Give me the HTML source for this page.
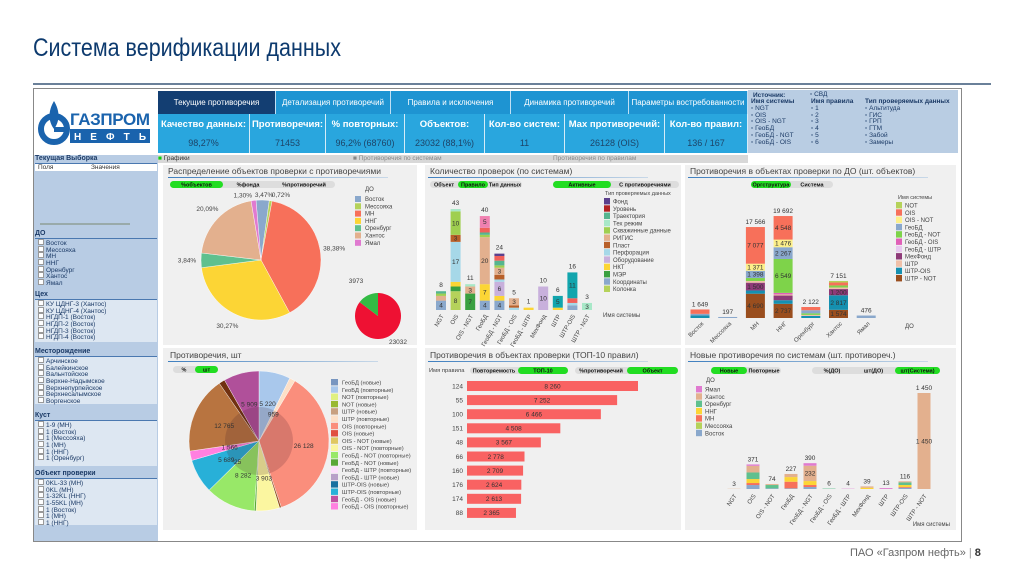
<!DOCTYPE html>
<html><head><meta charset="utf-8">
<style>
*{margin:0;padding:0;box-sizing:border-box}
body{width:1024px;height:576px;background:#fff;position:relative;overflow:hidden;font-family:"Liberation Sans","Noto Sans CJK SC",sans-serif}
.a{position:absolute}
.tab{position:absolute;top:91px;height:23px;background:#1e94d2;color:#fff;font-size:8px;text-align:center;line-height:23px;border-right:1px solid #bfe0f5;white-space:nowrap;overflow:hidden}
.kpi{position:absolute;top:114px;height:39px;background:#29a6de;border-right:1px solid #d5ecf8;text-align:center;color:#fff;white-space:nowrap;overflow:hidden}
.kpi b{display:block;font-size:9.5px;margin-top:5px}
.kpi span{display:block;font-size:9px;color:#1d4468;margin-top:8px}
.lp{position:absolute;left:35px;width:122px;font-size:6.5px;color:#1b3a66}
.lh{position:absolute;left:35px;width:122px;font-size:7px;font-weight:bold;color:#1b3a66;border-bottom:1px solid #4a78b0;height:9px}
.li{height:6.7px;line-height:6.7px;padding-left:3px;white-space:nowrap}
.li:before{content:"";display:inline-block;width:4px;height:4px;background:#fff;margin-right:2px;border:0.5px solid #999}
.pan{position:absolute;background:#f0f0f0}
.pt{position:absolute;font-size:8.5px;color:#444;white-space:nowrap}
.pl{position:absolute;height:1px;background:linear-gradient(90deg,#3f7fbf,#c8d8e8)}
</style></head><body>
<div class="a" style="left:33px;top:34px;font-size:25px;color:#0d3a6e;transform:scaleX(.86);transform-origin:left;white-space:nowrap">Система верификации данных</div>
<div class="a" style="left:33px;top:83px;width:958px;height:2px;background:#6a8099"></div>
<div class="a" style="left:33px;top:88px;width:929px;height:454px;border:1.5px solid #888;background:#fff"></div>
<div class="a" style="left:36px;top:91px;width:120px;height:62px;background:#fff">
 <svg width="120" height="62"><circle cx="18" cy="38" r="13" fill="none" stroke="#1a63ad" stroke-width="6"/><path d="M18 10 C24 20 24 30 18 38 C12 30 12 20 18 10Z" fill="#1a63ad"/><rect x="18" y="36" width="12" height="5" fill="#1a63ad"/><text x="34" y="34" font-size="17" font-weight="bold" fill="#1a63ad" font-family="Liberation Sans" textLength="80">ГАЗПРОМ</text><rect x="34" y="38" width="80" height="14" fill="#1a63ad"/><text x="38" y="49" font-size="10" font-weight="bold" fill="#fff" textLength="72" font-family="Liberation Sans">Н Е Ф Т Ь</text></svg>
</div>
<div class="tab" style="left:158px;width:118px;background:#133e72">Текущие противоречия</div>
<div class="tab" style="left:276px;width:115px">Детализация противоречий</div>
<div class="tab" style="left:391px;width:120px">Правила и исключения</div>
<div class="tab" style="left:511px;width:118px">Динамика противоречий</div>
<div class="tab" style="left:629px;width:119px">Параметры востребованности</div>
<div class="kpi" style="left:158px;width:92px"><b>Качество данных:</b><span>98,27%</span></div>
<div class="kpi" style="left:250px;width:76px"><b>Противоречия:</b><span>71453</span></div>
<div class="kpi" style="left:326px;width:79px"><b>% повторных:</b><span>96,2% (68760)</span></div>
<div class="kpi" style="left:405px;width:80px"><b>Объектов:</b><span>23032 (88,1%)</span></div>
<div class="kpi" style="left:485px;width:80px"><b>Кол-во систем:</b><span>11</span></div>
<div class="kpi" style="left:565px;width:100px"><b>Max противоречий:</b><span>26128 (OIS)</span></div>
<div class="kpi" style="left:665px;width:83px"><b>Кол-во правил:</b><span>136 / 167</span></div>
<div class="a" style="left:748px;top:90px;width:210px;height:63px;background:#b9cde3;font-size:6.5px;color:#1b3a66">
 <div class="a" style="left:5px;top:2px;font-weight:bold">Источник:</div><div class="a" style="left:62px;top:1px">▫ СВД</div>
 <div class="a" style="left:3px;top:9px;width:56px;line-height:6.8px;white-space:nowrap"><b>Имя системы</b><br>▫ NGT<br>▫ OIS<br>▫ OIS - NGT<br>▫ ГеоБД<br>▫ ГеоБД - NGT<br>▫ ГеоБД - OIS</div>
 <div class="a" style="left:63px;top:9px;width:50px;line-height:6.8px;white-space:nowrap"><b>Имя правила</b><br>▫ 1<br>▫ 2<br>▫ 3<br>▫ 4<br>▫ 5<br>▫ 6</div>
 <div class="a" style="left:117px;top:9px;width:90px;line-height:6.8px;white-space:nowrap"><b>Тип проверяемых данных</b><br>▫ Альтитуда<br>▫ ГИС<br>▫ ГРП<br>▫ ГТМ<br>▫ Забой<br>▫ Замеры</div>
</div>
<div class="a" style="left:34px;top:155px;width:124px;height:386px;background:#b8cce4"></div>
<div class="lh" style="top:155px">Текущая Выборка</div>
<div class="a" style="left:35px;top:164px;width:122px;height:7px;background:#fff;font-size:6.5px;color:#333;padding-left:3px">Поля<span style="position:absolute;left:56px">Значения</span></div>
<div class="a" style="left:40px;top:223px;width:90px;height:2px;background:#9aa"></div>
<div class="lh" style="top:230px">ДО</div>
<div class="lp" style="top:239px"><div class="li">Восток</div><div class="li">Мессояха</div><div class="li">МН</div><div class="li">ННГ</div><div class="li">Оренбург</div><div class="li">Хантос</div><div class="li">Ямал</div></div>
<div class="lh" style="top:291px">Цех</div>
<div class="lp" style="top:300px;background:#dde7f2;height:42px"><div class="li">КУ ЦДНГ-3 (Хантос)</div><div class="li">КУ ЦДНГ-4 (Хантос)</div><div class="li">НГДП-1 (Восток)</div><div class="li">НГДП-2 (Восток)</div><div class="li">НГДП-3 (Восток)</div><div class="li">НГДП-4 (Восток)</div></div>
<div class="lh" style="top:348px">Месторождение</div>
<div class="lp" style="top:357px;background:#dde7f2;height:47px"><div class="li">Арчинское</div><div class="li">Балейкинское</div><div class="li">Вальнтойское</div><div class="li">Верхне-Надымское</div><div class="li">Верхнепурпейское</div><div class="li">Верхнесалымское</div><div class="li">Воргенское</div></div>
<div class="lh" style="top:412px">Куст</div>
<div class="lp" style="top:421px;background:#dde7f2;height:45px"><div class="li">1-9 (МН)</div><div class="li">1 (Восток)</div><div class="li">1 (Мессояха)</div><div class="li">1 (МН)</div><div class="li">1 (ННГ)</div><div class="li">1 (Оренбург)</div></div>
<div class="lh" style="top:470px">Объект проверки</div>
<div class="lp" style="top:479px;background:#dde7f2;height:46px"><div class="li">0KL-33 (МН)</div><div class="li">0KL (МН)</div><div class="li">1-32KL (ННГ)</div><div class="li">1-55KL (МН)</div><div class="li">1 (Восток)</div><div class="li">1 (МН)</div><div class="li">1 (ННГ)</div></div>
<div class="a" style="left:158px;top:155px;width:590px;height:8px;background:#d8d8d8;font-size:6.5px;color:#333;line-height:8px"><span style="color:#1c1;">■</span> Графики<span style="position:absolute;left:195px;color:#888">■ Противоречия по системам</span><span style="position:absolute;left:395px;color:#888">Противоречия по правилам</span></div>
<div class="pan" style="left:163px;top:165px;width:254px;height:180px"></div>
<div class="pan" style="left:425px;top:165px;width:256px;height:180px"></div>
<div class="pan" style="left:685px;top:165px;width:271px;height:180px"></div>
<div class="pan" style="left:163px;top:348px;width:254px;height:182px"></div>
<div class="pan" style="left:425px;top:348px;width:256px;height:182px"></div>
<div class="pan" style="left:685px;top:348px;width:271px;height:182px"></div>
<div class="pt" style="left:168px;top:166px">Распределение объектов проверки с противоречиями</div>
<div class="pl" style="left:168px;top:177px;width:220px"></div>
<div class="pt" style="left:430px;top:166px">Количество проверок (по системам)</div>
<div class="pl" style="left:428px;top:177px;width:220px"></div>
<div class="pt" style="left:690px;top:166px">Противоречия в объектах проверки по ДО (шт. объектов)</div>
<div class="pl" style="left:688px;top:177px;width:240px"></div>
<div class="pt" style="left:170px;top:350px">Противоречия, шт</div>
<div class="pl" style="left:168px;top:361px;width:210px"></div>
<div class="pt" style="left:430px;top:350px">Противоречия в объектах проверки (ТОП-10 правил)</div>
<div class="pl" style="left:428px;top:361px;width:220px"></div>
<div class="pt" style="left:690px;top:350px">Новые противоречия по системам (шт. противореч.)</div>
<div class="pl" style="left:688px;top:361px;width:240px"></div>
<div class="a" style="left:850px;top:547px;font-size:11px;color:#666;white-space:nowrap">ПАО «Газпром нефть» <span style="color:#999">|</span> <b style="color:#333">8</b></div>
<svg id="c" class="a" style="left:0;top:0" width="1024" height="576"></svg>
<script>
// ---------- Pie by ДО ----------
const doNames=["Восток","Мессояха","МН","ННГ","Оренбург","Хантос","Ямал"];
const doColors=["#8aa8cc","#b5d25a","#f7705a","#fcd535","#5fc08e","#e3b08e","#e07ad0"];
const doShares=[3.47,0.72,38.38,30.27,3.84,20.09,1.30];
const doShareLabels=["3,47%","0,72%","38,38%","30,27%","3,84%","20,09%","1,30%"];
const miniValues=[23032,3973];
const miniLabels=["23032","3973"];
// ---------- Checks by system ----------
const sysCats=["NGT","OIS","OIS - NGT","ГеоБД","ГеоБД - NGT","ГеоБД - OIS","ГеоБД - ШТР","МехФонд","ШТР","ШТР-OIS","ШТР - NGT"];
const typeNames=["Координаты","Колонка","МЭР","НКТ","Оборудование","Перфорация","Пласт","РИГИС","Скважинные данные","Тех режим","Траектория","Уровень","Фонд","ШТР","Прочие"];
const typeColors=["#8aa8cc","#b5d25a","#3aa040","#fcd535","#c8b0dc","#a6d8e8","#b8602a","#e3b08e","#9fcf50","#a8e8c8","#55b58f","#f0605a","#5b3f8c","#12a5ad","#f080b0"];
const chkCoord=[4,0,0,4,4,0,0,0,0,2,0];
const chkKolonka=[0,8,0,0,0,0,0,0,0,0,0];
const chkMer=[0,2,7,0,0,0,0,0,0,0,0];
const chkNkt=[0,2,0,7,2,0,1,0,1,0,0];
const chkObor=[0,0,0,0,6,0,0,10,0,0,0];
const chkPerf=[0,17,0,0,1,1,0,0,0,1,0];
const chkPlast=[0,3,0,0,2,1,0,0,0,0,0];
const chkRigis=[2,0,3,20,3,3,0,0,0,0,0];
const chkSkv=[1,10,0,1,1,0,0,0,0,0,0];
const chkTex=[0,1,1,0,0,0,0,0,0,0,3];
const chkTraek=[1,0,0,1,2,0,0,0,0,0,0];
const chkUrov=[0,0,0,2,2,0,0,0,0,2,0];
const chkFond=[0,0,0,0,1,0,0,0,0,0,0];
const chkShtr=[0,0,0,0,0,0,0,0,5,11,0];
const chkOther=[0,0,0,5,0,0,0,0,0,0,0];
// ---------- Contradictions by ДО ----------
const dbSys=["NOT","OIS","OIS - NOT","ГеоБД","ГеоБД - NOT","ГеоБД - OIS","ГеоБД - ШТР","МехФонд","ШТР","ШТР-OIS","ШТР - NOT"];
const dbColors=["#b5d25a","#f7705a","#fdf08a","#8aa8cc","#7ed34a","#e060b8","#e8c8f0","#8e3a78","#f0c0a8","#1590b0","#9a4e1e"];
const dbNOT=[0,0,0,0,0,300,0];
const dbOIS=[849,0,7077,4548,622,560,0];
const dbOISNOT=[0,0,1371,1476,0,0,0];
const dbGeo=[300,197,1398,2267,600,0,476];
const dbGeoNOT=[0,0,570,6549,300,400,0];
const dbGeoOIS=[0,0,0,300,0,0,0];
const dbGeoSHTR=[0,0,0,0,0,0,0];
const dbMeh=[0,0,1500,900,0,1200,0];
const dbSHTR=[0,0,330,215,200,300,0];
const dbSHTROIS=[500,0,630,700,400,2817,0];
const dbSHTRNOT=[0,0,4690,2737,0,1574,0];
// ---------- Donut ----------
const dnNames=["ГеоБД (повторные)","ШТР (повторные)","OIS (повторные)","OIS - NOT (новые)","OIS - NOT (повторные)","ГеоБД - NOT (новые)","ГеоБД - NOT (повторные)","ГеоБД - OIS (новые)","ШТР-OIS (повторные)","ГеоБД - OIS (повторные)","ШТР (новые)","ШТР (новые) доп","ГеоБД - OIS (новые) доп"];
const dnValues=[5220,959,26128,300,3903,300,8282,25,5689,1566,12765,1000,5909];
const dnLabels=["5 220","959","26 128","","3 903","","8 282","25","5 689","1 566","12 765","","5 909"];
const dnColors=["#a9c8ec","#fde0c8","#fa8e7c","#8e5020","#fbf6a0","#5aa838","#98e868","#3a9030","#28b0d8","#ff80e0","#b87440","#703010","#b0509a"];
const legDn=["ГеоБД (новые)","ГеоБД (повторные)","NOT (повторные)","NOT (новые)","ШТР (новые)","ШТР (повторные)","OIS (повторные)","OIS (новые)","OIS - NOT (новые)","OIS - NOT (повторные)","ГеоБД - NOT (повторные)","ГеоБД - NOT (новые)","ГеоБД - ШТР (повторные)","ГеоБД - ШТР (новые)","ШТР-OIS (новые)","ШТР-OIS (повторные)","ГеоБД - OIS (новые)","ГеоБД - OIS (повторные)"];
const legDnColors=["#7896c0","#a9c8ec","#e0f080","#98b830","#c8a080","#fde0c8","#fa8e7c","#e05040","#e0c860","#fbf6a0","#98e868","#5aa838","#fce0fc","#b8a0c8","#1870a0","#28b0d8","#c050a0","#ff80e0"];
// ---------- Top-10 ----------
const ruleIds=["124","55","100","151","48","66","160","176","174","88"];
const ruleValues=[8260,7252,6466,4508,3567,2778,2709,2624,2613,2365];
const ruleLabels=["8 260","7 252","6 466","4 508","3 567","2 778","2 709","2 624","2 613","2 365"];
// ---------- New contradictions ----------
const newCats=["NGT","OIS","OIS - NOT","ГеоБД","ГеоБД - NGT","ГеоБД - OIS","ГеоБД - ШТР","МехФонд","ШТР","ШТР-OIS","ШТР - NOT"];
const newDoNames=["Восток","Мессояха","МН","ННГ","Оренбург","Хантос","Ямал"];
const newDoColors=["#8aa8cc","#b5d25a","#f7705a","#fcd535","#5fc08e","#e3b08e","#e07ad0"];
const nwVostok=[0,60,10,10,30,0,0,0,0,20,0];
const nwMess=[0,0,0,0,0,0,0,0,0,0,0];
const nwMN=[0,30,0,100,30,0,0,0,0,10,0];
const nwNNG=[0,60,0,70,60,0,0,19,0,30,0];
const nwOren=[0,100,50,0,0,6,0,0,0,40,0];
const nwHant=[3,100,14,47,232,0,0,20,0,16,1450];
const nwYamal=[0,21,0,0,38,0,4,0,13,0,0];

const S=document.getElementById('c');const NS="http://www.w3.org/2000/svg";
function el(t,a,p){const e=document.createElementNS(NS,t);for(const k in a)e.setAttribute(k,a[k]);(p||S).appendChild(e);return e;}
function tx(x,y,s,size,fill,anchor,rot){const e=el('text',{x:x,y:y,'font-size':size||6.5,fill:fill||'#444','text-anchor':anchor||'start','font-family':'Liberation Sans, Noto Sans CJK SC, sans-serif'});if(rot)e.setAttribute('transform','rotate('+rot+' '+x+' '+y+')');e.textContent=s;return e;}
function arc(cx,cy,r,a0,a1){const p=(a,rr)=>[cx+rr*Math.sin(a),cy-rr*Math.cos(a)];const lg=(a1-a0)>Math.PI?1:0;const [x0,y0]=p(a0,r),[x1,y1]=p(a1,r);if(a1-a0>=2*Math.PI-1e-6)return `M${cx} ${cy-r}A${r} ${r} 0 1 1 ${cx-0.01} ${cy-r}Z`;return `M${cx} ${cy}L${x0} ${y0}A${r} ${r} 0 ${lg} 1 ${x1} ${y1}Z`;}
function pill(x,y,w,labels,on,ws){let cx=x;el('rect',{x:x,y:y,width:w,height:7,rx:3.5,fill:'#ddd'});labels.forEach((l,i)=>{const ww=ws[i];if(on[i]){const r=el('rect',{x:cx,y:y,width:ww,height:7,rx:3.5,fill:'#22dd22'});}const t=tx(cx+ww/2,y+5.5,l,5.5,'#111','middle');t.setAttribute('font-weight','bold');cx+=ww;});}

// Pie 1
pill(170,181,165,["%объектов","%фонда","%противоречий"],[1,0,0],[53,50,62]);
{const cx=261,cy=260,r=60;const tot=doShares.reduce((a,b)=>a+b,0);const start=-doShares[6]/tot*2*Math.PI;let a=start;
const nudge=[[1,9],[8,8],[0,0],[0,0],[0,0],[0,0],[-9,9]];
doShares.forEach((v,i)=>{const a1=a+v/tot*2*Math.PI;const p=el('path',{d:arc(cx,cy,r,a,a1),fill:doColors[i],stroke:'#fff','stroke-width':0.4});
const m=(a+a1)/2,lr=r+14;tx(cx+lr*Math.sin(m)+nudge[i][0],cy-lr*Math.cos(m)+2+nudge[i][1],doShareLabels[i],6.5,'#444','middle');a=a1;});}
{const lx=353,ly=186;tx(lx+12,ly+5,"ДО",6,'#444');doNames.forEach((n,i)=>{const r=el('rect',{x:lx+2,y:ly+10+i*7.3,width:6,height:6,fill:doColors[i]});tx(lx+12,ly+15+i*7.3,n,6,'#444');});}
{const cx=378,cy=316,r=23;const tot=miniValues[0]+miniValues[1];let a=0;const cols=['#ee1133','#33bb44'];miniValues.forEach((v,i)=>{const a1=a+v/tot*2*Math.PI;const p=el('path',{d:arc(cx,cy,r,a,a1),fill:cols[i]});a=a1;});tx(398,344,miniLabels[0],6.5,'#444','middle');tx(356,283,miniLabels[1],6.5,'#444','middle');}

// Checks stacked bars
pill(430,181,92,["Объект","Правило","Тип данных"],[0,1,0],[28,30,34]);
pill(553,181,126,["Активные","С противоречиями"],[1,0],[58,68]);
{const base=310,k=101/43,x0=441,dx=14.6,w=10;const series=[chkCoord,chkKolonka,chkMer,chkNkt,chkObor,chkPerf,chkPlast,chkRigis,chkSkv,chkTex,chkTraek,chkUrov,chkFond,chkShtr,chkOther];
sysCats.forEach((c,i)=>{let y=base,tot=0;series.forEach((s,j)=>{const v=s[i];if(!v)return;const h=v*k;y-=h;tot+=v;const r=el('rect',{x:x0+i*dx-w/2,y:y,width:w,height:h,fill:typeColors[j]});if(v>=3)tx(x0+i*dx,y+h/2+2.3,String(v),6.5,'#333','middle');});
tx(x0+i*dx,y-4,String(tot),6.5,'#333','middle');tx(x0+i*dx+3,316,c,6,'#444','end',-60);});
tx(605,195,"Тип проверяемых данных",5.5,'#444');const lt=["Фонд","Уровень","Траектория","Тех режим","Скважинные данные","РИГИС","Пласт","Перфорация","Оборудование","НКТ","МЭР","Координаты","Колонка"];const lc=["#5b3f8c","#b22222","#55b58f","#a8e8c8","#9fcf50","#e3b08e","#b8602a","#a6d8e8","#c8b0dc","#fcd535","#3aa040","#8aa8cc","#b5d25a"];
lt.forEach((n,i)=>{const r=el('rect',{x:604,y:198+i*7.3,width:6,height:6.4,fill:lc[i]});tx(613,203.5+i*7.3,n,6,'#444');});tx(603,317,"Имя системы",6,'#444');}

// ДО bars
pill(751,181,82,["Оргструктура","Система"],[1,0],[40,42]);
{const base=318,k=103/19892,x0=700,dx=27.7,w=19;const series=[dbSHTRNOT,dbSHTROIS,dbMeh,dbSHTR,dbGeoSHTR,dbGeoOIS,dbGeoNOT,dbGeo,dbOISNOT,dbOIS,dbNOT];const cidx=[10,9,7,8,6,5,4,3,2,1,0];
doNames.forEach((c,i)=>{let y=base,tot=0;series.forEach((s,j)=>{const v=s[i];if(!v)return;const h=v*k;y-=h;tot+=v;const r=el('rect',{x:x0+i*dx-w/2,y:y,width:w,height:h,fill:dbColors[cidx[j]]});if(v>=1000)tx(x0+i*dx,y+h/2+2.3,v.toLocaleString('ru-RU').replace(/\s/g,' '),6.5,'#333','middle');});
tx(x0+i*dx,y-3,tot.toLocaleString('ru-RU').replace(/\s/g,' '),6.5,'#333','middle');tx(x0+i*dx+4,324,c,6,'#444','end',-45);});
tx(898,199,"Имя системы",5.5,'#444');dbSys.forEach((n,i)=>{const r=el('rect',{x:896,y:202+i*7.3,width:6,height:6.4,fill:dbColors[i]});tx(905,207.5+i*7.3,n,6,'#444');});tx(905,328,"ДО",6,'#444');}

// Donut
pill(173,366,45,["%","шт"],[0,1],[22,23]);
{const cx=259,cy=441,r=70;const tot=dnValues.reduce((a,b)=>a+b,0);let a=0;dnValues.forEach((v,i)=>{const a1=a+v/tot*2*Math.PI;const p=el('path',{d:arc(cx,cy,r,a,a1),fill:dnColors[i],stroke:'#fff','stroke-width':0.4});a=a1;});
el('circle',{cx:cx,cy:cy,r:34,fill:'rgba(60,20,40,0.18)'});a=0;dnValues.forEach((v,i)=>{const a1=a+v/tot*2*Math.PI;const m=(a+a1)/2,lr=i==2?45:(v>3000?38:30);if(dnLabels[i])tx(cx+lr*Math.sin(m),cy-lr*Math.cos(m)+2,dnLabels[i],6.5,'#333','middle');a=a1;});
legDn.forEach((n,i)=>{const r=el('rect',{x:331,y:379+i*7.3,width:7,height:6.4,fill:legDnColors[i]});tx(342,384.5+i*7.3,n,5.8,'#444');});}

// Top-10
tx(429,372,"Имя правила",5.8,'#444');pill(470,367,98,["Повторяемость","ТОП-10"],[0,1],[48,50]);pill(575,367,103,["%противоречий","Объект"],[0,1],[52,51]);
{const x0=467,k=171/8260,y0=386,dy=14.1,h=10;ruleIds.forEach((id,i)=>{const r=el('rect',{x:x0,y:y0+i*dy-h/2,width:ruleValues[i]*k,height:h,fill:'#f96262'});tx(x0-4,y0+i*dy+2.3,id,6.5,'#444','end');tx(x0+ruleValues[i]*k/2,y0+i*dy+2.3,ruleLabels[i],6.5,'#333','middle');});}

// New contradictions
pill(711,367,70,["Новые","Повторные"],[1,0],[36,34]);pill(812,367,128,["%(ДО)","шт(ДО)","шт(Система)"],[0,0,1],[40,43,45]);
{tx(706,382,"ДО",6,'#444');newDoNames.slice().reverse().forEach((n,i)=>{const ci=6-i;const r=el('rect',{x:696,y:386+i*7.3,width:6,height:6.4,fill:newDoColors[ci]});tx(705,391.5+i*7.3,n,6,'#444');});
const base=489,k=96/1450,x0=734,dx=19,w=13;const series=[nwVostok,nwMess,nwMN,nwNNG,nwOren,nwHant,nwYamal];
newCats.forEach((c,i)=>{let y=base,tot=0;series.forEach((s,j)=>{const v=s[i];if(!v)return;const h=v*k;y-=h;tot+=v;const r=el('rect',{x:x0+i*dx-w/2,y:y,width:w,height:h,fill:newDoColors[j]});if(v>=200)tx(x0+i*dx,y+h/2+2.3,v.toLocaleString('ru-RU').replace(/\s/g,' '),6.5,'#333','middle');});
tx(x0+i*dx,y-3,tot.toLocaleString('ru-RU').replace(/\s/g,' '),6.5,'#333','middle');tx(x0+i*dx+3,496,c,6,'#444','end',-55);});
tx(950,526,"Имя системы",6,'#444','end');}
</script>
</body></html>
